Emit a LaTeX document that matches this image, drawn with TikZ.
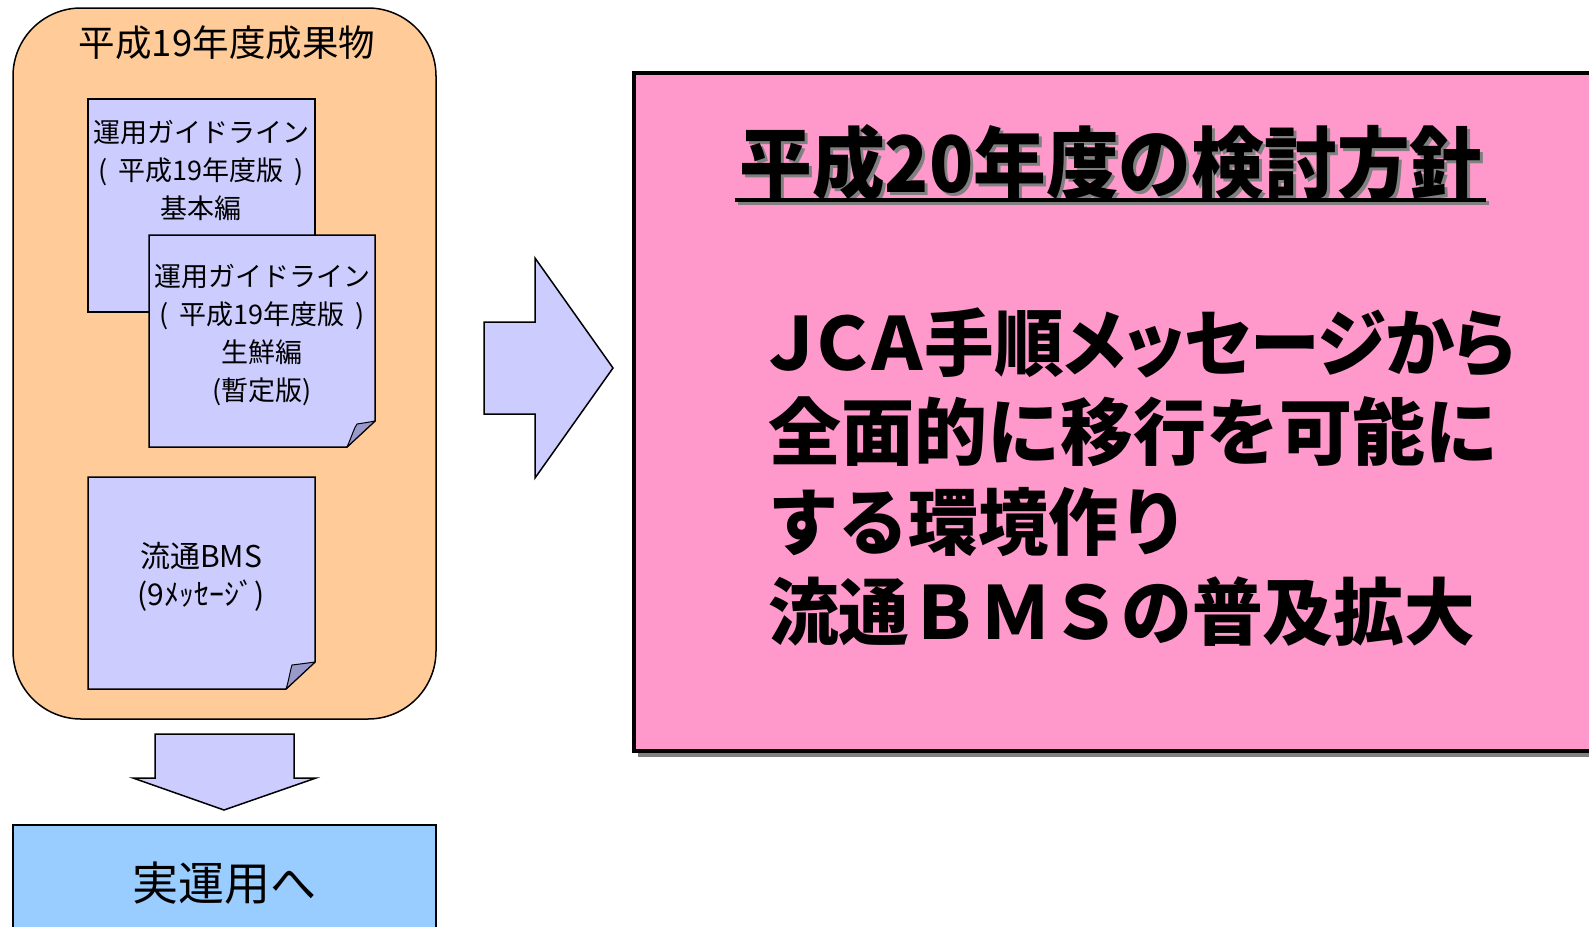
\documentclass[tikz,border=0pt]{standalone}
\usepackage{graphicx}
\usepackage{fontspec}
\setmainfont{Noto Sans CJK JP}
\newfontfamily\jp{Noto Sans CJK JP}
\newfontfamily\jppalt{Noto Sans CJK JP}[RawFeature=+palt]
\definecolor{peach}{HTML}{FFCC99}
\definecolor{lav}{HTML}{CCCCFF}
\definecolor{lavdark}{HTML}{9999CC}
\definecolor{skyb}{HTML}{99CCFF}
\definecolor{pinkbox}{HTML}{FF99CC}
\definecolor{shadowgray}{HTML}{808080}
\begin{document}
\begin{tikzpicture}[x=1pt,y=-1pt,
  docbox/.style={draw=black,fill=lav,line width=1.5pt},
  fold/.style={draw=black,fill=lavdark,line width=1pt,line join=round},
  doctext/.style={align=center,inner sep=0pt,font=\jp\fontsize{27}{38}\selectfont},
  blockarrow/.style={draw=black,fill=lav,line width=1.5pt,line join=miter},
  bigline/.style={anchor=west,inner sep=0pt,font=\jp\bfseries\fontsize{73}{88}\selectfont},
  titlefont/.style={inner sep=0pt,font=\jp\bfseries\fontsize{78}{90}\selectfont}]
\useasboundingbox (0,0) rectangle (1589,926);
\clip (0,0) rectangle (1589,926);
\fill[white] (0,0) rectangle (1589,926);

% left container
\draw[fill=peach,line width=1.5pt,rounded corners=68pt] (13,8) rectangle (436,719);
\node[inner sep=0pt,font=\jp\fontsize{36.5}{40}\selectfont] (outtitle) at (227,43) {平成19年度成果物};

% document 1
\draw[docbox] (88,99) rectangle (315,312);
\node[doctext] (d1) at (201,170) {運用ガイドライン\\(\hspace{11pt}平成19年度版\hspace{11pt})\\基本編};

% document 2
\draw[docbox] (149,235) -- (375,235) -- (375,421) -- (347,447) -- (149,447) -- cycle;
\draw[fold] (347,447) .. controls (352,436) and (354,428) .. (357,424) .. controls (364,423) and (370,422) .. (375,421) -- cycle;
\node[doctext] (d2) at (262,335) {運用ガイドライン\\(\hspace{11pt}平成19年度版\hspace{11pt})\\生鮮編\\(暫定版)};

% document 3
\draw[docbox] (88,477) -- (315,477) -- (315,662) -- (286,689) -- (88,689) -- cycle;
\draw[fold] (286,689) .. controls (289,680) and (290,671) .. (292,665) .. controls (300,664) and (308,663) .. (315,662) -- cycle;
\node[doctext,font=\jp\fontsize{30}{38}\selectfont] (d3) at (201,577) {流通BMS\\(9ﾒｯｾｰｼﾞ)};

% down arrow
\draw[blockarrow] (155,734) -- (294,734) -- (294,778) -- (316,778) -- (224,810) -- (133,778) -- (155,778) -- cycle;

% bottom blue box
\draw[fill=skyb,line width=1.5pt] (13,825) rectangle (436,940);
\node[inner sep=0pt,font=\jp\fontsize{46}{52}\selectfont] (jitsu) at (224,883) {実運用へ};

% right arrow
\draw[blockarrow] (484,322) -- (535,322) -- (535,258) -- (613,368) -- (535,478) -- (535,414) -- (484,414) -- cycle;

% pink box
\fill[shadowgray] (638,79) rectangle (1600,757);
\draw[fill=pinkbox,line width=3.5pt] (634,73) rectangle (1600,751);

% title with shadow
\node[titlefont,text=shadowgray] (titleshadow) at (1114,166) {\scalebox{0.932}[1]{平成20年度の検討方針}};
\node[titlefont] (title) at (1111,163) {\scalebox{0.932}[1]{平成20年度の検討方針}};
\coordinate (ul) at (0,200);
\coordinate (uls) at (0,203);
\draw[shadowgray,line width=4pt] ([xshift=-1pt]title.west |- uls) -- ([xshift=6pt]title.east |- uls);
\draw[black,line width=4pt] ([xshift=-4pt]title.west |- ul) -- ([xshift=3pt]title.east |- ul);

% body lines
\node[bigline,font=\jppalt\bfseries\fontsize{73}{88}\selectfont] (l1) at (770,343) {\scalebox{0.954}[1]{ＪＣＡ手順メッセージから}};
\node[bigline] (l2) at (768,432) {全面的に移行を可能に};
\node[bigline] (l3) at (768,522) {\scalebox{0.96}[1]{する環境作り}};
\node[bigline] (l4) at (768,612) {\scalebox{0.968}[1]{流通ＢＭＳの普及拡大}};
\end{tikzpicture}
\end{document}
